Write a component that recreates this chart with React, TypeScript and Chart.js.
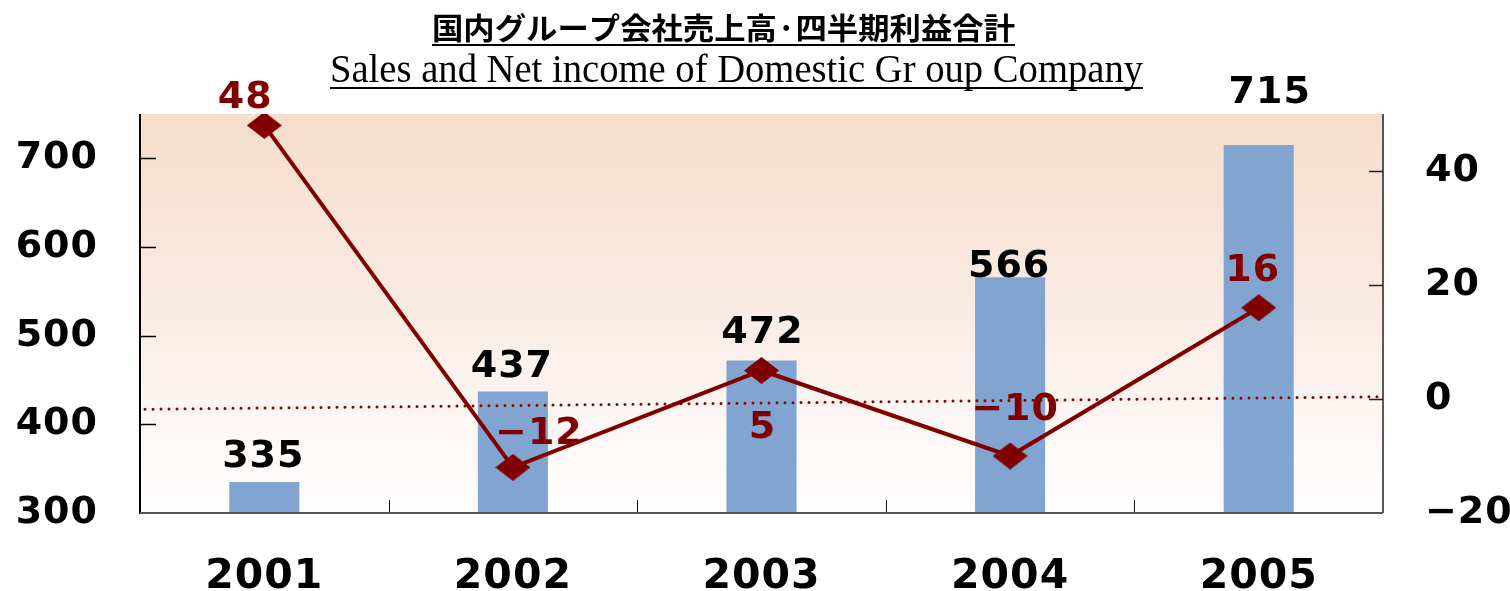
import React, { useEffect, useRef } from 'react';
import { Chart, registerables } from 'chart.js';

Chart.register(...registerables);

const years = ['2001', '2002', '2003', '2004', '2005'];
const sales = [335, 437, 472, 566, 715];
const netIncome = [48, -12, 5, -10, 16];
const trendLine = [-1.8, 0.4]; // dotted reference line: right-axis value at left and right edge
const leftTicks = [300, 400, 500, 600, 700];
const rightTicks = [-20, 0, 20, 40];
const titleJa = '国内グループ会社売上高·四半期利益合計';
const titleEn = 'Sales and Net income of Domestic Gr oup Company';

const MAROON = '#800000';
const BAR = '#82A4D0';
const NUM_FONT = '"DejaVu Sans", "Liberation Sans", sans-serif';
const SPACING = '1px';

const fmt = (v: number) => String(v).replace('-', '\u2212');

export default function App() {
  const ref = useRef<HTMLCanvasElement>(null);

  useEffect(() => {
    const canvas = ref.current!;
    const marker = document.createElement('canvas');
    marker.width = 35;
    marker.height = 27;
    const m = marker.getContext('2d')!;
    m.fillStyle = MAROON;
    m.beginPath();
    m.moveTo(17.5, 0);
    m.lineTo(35, 13.5);
    m.lineTo(17.5, 27);
    m.lineTo(0, 13.5);
    m.closePath();
    m.fill();

    const bgPlugin = {
      id: 'bg',
      beforeDraw(chart: any) {
        const { ctx, chartArea } = chart;
        const { left, right, top, bottom } = chartArea;
        const g = ctx.createLinearGradient(0, top, 0, bottom);
        g.addColorStop(0, '#F6DDCC');
        g.addColorStop(0.55, '#FAEDE6');
        g.addColorStop(0.8, '#FDF8F6');
        g.addColorStop(1, '#FFFEFE');
        ctx.save();
        ctx.fillStyle = g;
        ctx.fillRect(left, top, right - left, bottom - top);
        ctx.restore();
        (ctx as any).letterSpacing = SPACING;
      },
    };

    const trendPlugin = {
      id: 'trend',
      afterDatasetDraw(chart: any, args: any) {
        if (args.index !== 1) return;
        const { ctx, chartArea, scales } = chart;
        const y0 = scales.y1.getPixelForValue(trendLine[0]);
        const y1 = scales.y1.getPixelForValue(trendLine[1]);
        ctx.save();
        ctx.strokeStyle = '#8B0000';
        ctx.lineWidth = 3;
        ctx.lineCap = 'round';
        ctx.setLineDash([0, 8]);
        ctx.beginPath();
        ctx.moveTo(chartArea.left + 5, y0);
        ctx.lineTo(chartArea.right - 3, y1);
        ctx.stroke();
        ctx.restore();
      },
    };

    const line = (ctx: any, x1: number, y1: number, x2: number, y2: number) => {
      ctx.beginPath();
      ctx.moveTo(x1, y1);
      ctx.lineTo(x2, y2);
      ctx.stroke();
    };

    const axesPlugin = {
      id: 'axesDraw',
      afterDatasetsDraw(chart: any) {
        const { ctx, chartArea, scales } = chart;
        const { left, right, top, bottom } = chartArea;
        ctx.save();
        ctx.strokeStyle = '#000';
        ctx.lineWidth = 2;
        line(ctx, left, top, left, bottom + 1);
        ctx.lineWidth = 1.5;
        leftTicks.forEach((v) => {
          if (v === scales.y.min) return;
          const py = Math.round(scales.y.getPixelForValue(v)) + 0.5;
          line(ctx, left, py, left + 16, py);
        });
        ctx.strokeStyle = '#222';
        ctx.lineWidth = 1.5;
        line(ctx, right, top, right, bottom);
        rightTicks.forEach((v) => {
          if (v === scales.y1.min) return;
          const py = Math.round(scales.y1.getPixelForValue(v)) + 0.5;
          line(ctx, right - 14, py, right, py);
        });
        ctx.strokeStyle = '#111';
        ctx.lineWidth = 1;
        for (let i = 1; i < years.length; i++) {
          const px = Math.round((scales.x.getPixelForValue(i - 1) + scales.x.getPixelForValue(i)) / 2) + 0.5;
          line(ctx, px, bottom - 13, px, bottom);
        }
        ctx.strokeStyle = '#555';
        ctx.lineWidth = 2;
        line(ctx, left, bottom, right, bottom);
        ctx.restore();
      },
    };

    const salesOffsets = [[-1, -15], [-1, -15], [1, -17], [-1, 0], [11, -42]];
    const netOffsets = [[-19, -17], [26, -23], [1, 67], [5, -36], [-6, -27]];

    const labelPlugin = {
      id: 'labels',
      afterDatasetsDraw(chart: any) {
        const { ctx } = chart;
        ctx.save();
        ctx.font = `bold 38px ${NUM_FONT}`;
        (ctx as any).letterSpacing = SPACING;
        ctx.textAlign = 'center';
        ctx.textBaseline = 'alphabetic';
        const barMeta = chart.getDatasetMeta(1);
        barMeta.data.forEach((el: any, i: number) => {
          ctx.fillStyle = '#000';
          ctx.fillText(fmt(sales[i]), el.x + salesOffsets[i][0], el.y + salesOffsets[i][1]);
        });
        const lineMeta = chart.getDatasetMeta(0);
        lineMeta.data.forEach((el: any, i: number) => {
          ctx.fillStyle = MAROON;
          ctx.fillText(fmt(netIncome[i]), el.x + netOffsets[i][0], el.y + netOffsets[i][1]);
        });
        ctx.restore();
      },
    };

    const titlePlugin = {
      id: 'titles',
      afterDraw(chart: any) {
        const { ctx } = chart;
        const drawFit = (text: string, font: string, x1: number, x2: number, baseline: number, ul: number) => {
          ctx.save();
          (ctx as any).letterSpacing = '0px';
          ctx.font = font;
          ctx.fillStyle = '#000';
          ctx.textAlign = 'center';
          ctx.textBaseline = 'alphabetic';
          const w = ctx.measureText(text).width;
          const sx = (x2 - x1) / w;
          ctx.translate((x1 + x2) / 2, baseline);
          ctx.scale(sx, 1);
          ctx.fillText(text, 0, 0);
          ctx.restore();
          ctx.save();
          ctx.strokeStyle = '#000';
          ctx.lineWidth = 2;
          line(ctx, x1, ul, x2, ul);
          ctx.restore();
        };
        drawFit(titleJa, 'bold 30px "Noto Sans CJK JP", sans-serif', 432, 1015, 39, 45);
        drawFit(titleEn, '39px "Liberation Serif", "Times New Roman", serif', 330, 1143, 82, 88);
      },
    };

    const chart = new Chart(canvas, {
      type: 'bar',
      data: {
        labels: years,
        datasets: [
          {
            type: 'line',
            label: 'Net income',
            data: netIncome,
            yAxisID: 'y1',
            borderColor: MAROON,
            borderWidth: 4,
            pointStyle: marker as any,
            pointRadius: 14,
            pointBackgroundColor: MAROON,
            pointBorderColor: MAROON,
            tension: 0,
            order: 0,
          } as any,
          {
            type: 'bar',
            label: 'Sales',
            data: sales,
            yAxisID: 'y',
            backgroundColor: BAR,
            borderWidth: 0,
            categoryPercentage: 1,
            barPercentage: 0.282,
            order: 1,
          },
        ],
      },
      options: {
        responsive: false,
        animation: false,
        layout: { padding: { top: 114, left: 0, right: 0, bottom: 0 } },
        plugins: {
          legend: { display: false },
          title: { display: false },
          tooltip: { enabled: false },
        },
        scales: {
          x: {
            grid: { display: false, drawTicks: false },
            border: { display: false },
            ticks: {
              color: '#000',
              font: { family: NUM_FONT, weight: 'bold', size: 41 },
              padding: 40,
            },
            afterFit(scale: any) {
              scale.height = 78;
            },
          },
          y: {
            position: 'left',
            min: 300,
            max: 750,
            grid: { display: false, drawTicks: false },
            border: { display: false },
            ticks: {
              color: '#000',
              font: { family: NUM_FONT, weight: 'bold', size: 38 },
              padding: 42,
              callback: (v: any) => fmt(Number(v)),
            },
            afterBuildTicks(scale: any) {
              scale.ticks = leftTicks.map((v) => ({ value: v }));
            },
            afterFit(scale: any) {
              scale.width = 140;
            },
          },
          y1: {
            position: 'right',
            min: -20,
            max: 50,
            grid: { display: false, drawTicks: false },
            border: { display: false },
            ticks: {
              color: '#000',
              font: { family: NUM_FONT, weight: 'bold', size: 38 },
              padding: 42,
              callback: (v: any) => fmt(Number(v)),
            },
            afterBuildTicks(scale: any) {
              scale.ticks = rightTicks.map((v) => ({ value: v }));
            },
            afterFit(scale: any) {
              scale.width = 127;
            },
          },
        },
      } as any,
      plugins: [bgPlugin, trendPlugin, axesPlugin, labelPlugin, titlePlugin],
    });

    return () => chart.destroy();
  }, []);

  return (
    <div style={{ position: 'fixed', left: 0, top: 0, width: 1510, height: 591, background: '#fff' }}>
      <canvas ref={ref} width={1510} height={591} style={{ display: 'block' }} />
    </div>
  );
}
